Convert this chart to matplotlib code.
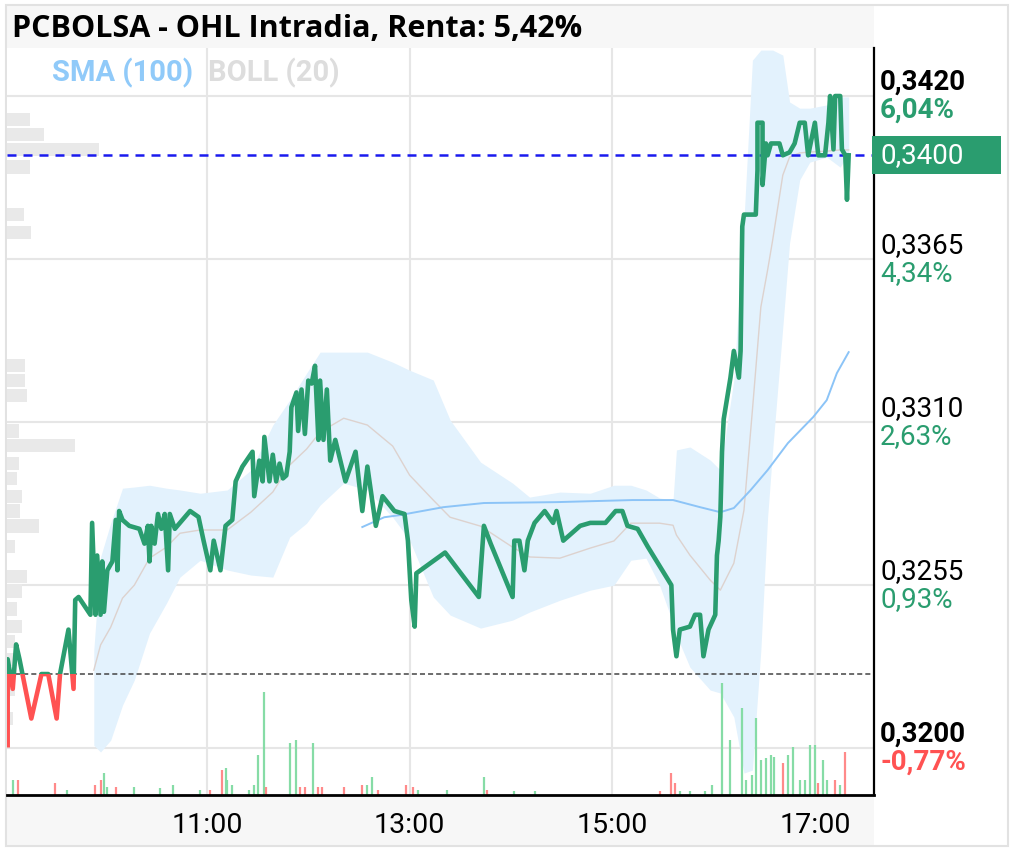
import math
import matplotlib
matplotlib.use("Agg")
import matplotlib.pyplot as plt
from matplotlib.patches import Rectangle
from matplotlib.transforms import blended_transform_factory, offset_copy

# reference (previous close) and last traded price
ref_price = 0.3225
last_price = 0.3400

# intraday price path
price_times = [
    "9:02", "9:02", "9:05", "9:07", "9:09", "9:16", "9:22", "9:26", "9:31", "9:33",
    "9:38", "9:41", "9:42", "9:44", "9:51", "9:52", "9:54", "9:55", "9:57", "9:58",
    "9:59", "10:01", "10:04", "10:06", "10:07", "10:08", "10:10", "10:14", "10:20", "10:23",
    "10:25", "10:26", "10:27", "10:29", "10:31", "10:33", "10:35", "10:37", "10:38", "10:41",
    "10:50", "10:55", "10:58", "11:02", "11:04", "11:08", "11:11", "11:15", "11:17", "11:21",
    "11:27", "11:28", "11:31", "11:33", "11:34", "11:37", "11:39", "11:41", "11:43", "11:45",
    "11:47", "11:49", "11:50", "11:53", "11:54", "11:56", "11:58", "12:00", "12:02", "12:04",
    "12:06", "12:07", "12:09", "12:11", "12:13", "12:16", "12:19", "12:22", "12:28", "12:32",
    "12:35", "12:40", "12:44", "12:51", "12:57", "12:59", "13:01", "13:03", "13:04", "13:21",
    "13:41", "13:44", "13:48", "14:01", "14:02", "14:05", "14:08", "14:10", "14:14", "14:20",
    "14:25", "14:27", "14:31", "14:41", "14:47", "14:56", "15:02", "15:06", "15:09", "15:15",
    "15:21", "15:35", "15:36", "15:38", "15:40", "15:46", "15:49", "15:52", "15:54", "15:57",
    "16:01", "16:02", "16:03", "16:04", "16:05", "16:06", "16:10", "16:12", "16:15", "16:16",
    "16:17", "16:18", "16:25", "16:26", "16:26", "16:29", "16:29", "16:31", "16:32", "16:34",
    "16:39", "16:41", "16:45", "16:48", "16:51", "16:54", "16:56", "17:00", "17:02", "17:06",
    "17:08", "17:09", "17:11", "17:12", "17:15", "17:16", "17:18", "17:19", "17:20",
]
price_values = [
    0.3201, 0.3230, 0.3220, 0.3235, 0.3230, 0.3210, 0.3225, 0.3225, 0.3210, 0.3225,
    0.3240, 0.3220, 0.3250, 0.3251, 0.3245, 0.3276, 0.3245, 0.3265, 0.3245, 0.3263,
    0.3246, 0.3260, 0.3263, 0.3277, 0.3260, 0.3280, 0.3277, 0.3275, 0.3274, 0.3269,
    0.3275, 0.3263, 0.3275, 0.3269, 0.3279, 0.3274, 0.3279, 0.3260, 0.3279, 0.3274,
    0.3280, 0.3278, 0.3270, 0.3260, 0.3270, 0.3260, 0.3275, 0.3277, 0.3290, 0.3295,
    0.3300, 0.3285, 0.3297, 0.3290, 0.3305, 0.3290, 0.3299, 0.3290, 0.3296, 0.3291,
    0.3292, 0.3300, 0.3315, 0.3320, 0.3307, 0.3321, 0.3306, 0.3324, 0.3323, 0.3329,
    0.3304, 0.3324, 0.3304, 0.3321, 0.3297, 0.3304, 0.3297, 0.3290, 0.3300, 0.3280,
    0.3295, 0.3275, 0.3285, 0.3280, 0.3279, 0.3270, 0.3250, 0.3241, 0.3259, 0.3266,
    0.3251, 0.3275, 0.3269, 0.3251, 0.3270, 0.3270, 0.3260, 0.3270, 0.3276, 0.3280,
    0.3276, 0.3280, 0.3270, 0.3275, 0.3276, 0.3276, 0.3280, 0.3280, 0.3275, 0.3274,
    0.3268, 0.3255, 0.3240, 0.3231, 0.3240, 0.3241, 0.3245, 0.3245, 0.3231, 0.3240,
    0.3245, 0.3265, 0.3270, 0.3278, 0.3300, 0.3311, 0.3325, 0.3334, 0.3325, 0.3334,
    0.3376, 0.3380, 0.3380, 0.3395, 0.3411, 0.3411, 0.3390, 0.3404, 0.3400, 0.3404,
    0.3404, 0.3400, 0.3401, 0.3404, 0.3411, 0.3411, 0.3400, 0.3411, 0.3400, 0.3400,
    0.3411, 0.3420, 0.3402, 0.3420, 0.3420, 0.3402, 0.3400, 0.3385, 0.3400,
]

# Bollinger (20) band
boll_times = [
    "9:53", "9:57", "10:03", "10:10", "10:17", "10:26", "10:36", "10:44", "10:56", "11:12",
    "11:26", "11:39", "11:49", "11:59", "12:07", "12:21", "12:35", "12:50", "13:00", "13:14",
    "13:24", "13:42", "14:01", "14:11", "14:29", "14:47", "15:01", "15:11", "15:20", "15:28",
    "15:36", "15:38", "15:46", "15:58", "16:04", "16:12", "16:18", "16:23", "16:28", "16:32",
    "16:35", "16:41", "16:45", "16:51", "16:57", "17:07", "17:15", "17:20",
]
boll_upper = [
    0.32331, 0.32645, 0.32759, 0.32877, 0.32881, 0.32887, 0.32877, 0.32871, 0.32860, 0.32871,
    0.32938, 0.33090, 0.33174, 0.33265, 0.33336, 0.33336, 0.33336, 0.33302, 0.33275, 0.33242,
    0.33107, 0.32965, 0.32894, 0.32847, 0.32864, 0.32860, 0.32887, 0.32887, 0.32871, 0.32844,
    0.32837, 0.33006, 0.33016, 0.32972, 0.32938, 0.33242, 0.33782, 0.34321, 0.34355, 0.34355,
    0.34355, 0.34338, 0.34180, 0.34159, 0.34159, 0.34170, 0.34197, 0.34197,
]
boll_lower = [
    0.32010, 0.31987, 0.32027, 0.32145, 0.32230, 0.32388, 0.32489, 0.32577, 0.32634, 0.32601,
    0.32584, 0.32577, 0.32712, 0.32759, 0.32820, 0.32894, 0.32871, 0.32779, 0.32702, 0.32510,
    0.32449, 0.32405, 0.32432, 0.32459, 0.32499, 0.32533, 0.32550, 0.32634, 0.32641, 0.32550,
    0.32422, 0.32381, 0.32273, 0.32196, 0.32186, 0.32105, 0.31916, 0.31926, 0.32331, 0.32779,
    0.33006, 0.33421, 0.33704, 0.33917, 0.33977, 0.33994, 0.33960, 0.34008,
]
boll_mid = [
    0.32263, 0.32348, 0.32408, 0.32506, 0.32550, 0.32641, 0.32678, 0.32725, 0.32736, 0.32736,
    0.32796, 0.32864, 0.32955, 0.33009, 0.33066, 0.33113, 0.33090, 0.33019, 0.32921, 0.32837,
    0.32779, 0.32749, 0.32678, 0.32645, 0.32641, 0.32675, 0.32699, 0.32759, 0.32759, 0.32759,
    0.32752, 0.32719, 0.32651, 0.32567, 0.32533, 0.32624, 0.32803, 0.33140, 0.33488, 0.33613,
    0.33714, 0.33933, 0.33994, 0.34008, 0.34011, 0.34014, 0.34018, 0.34018,
]

# SMA (100)
sma_times = ["12:32", "12:45", "12:54", "13:20", "13:44", "14:27", "15:12", "15:36", "15:52",
             "16:04", "16:12", "16:22", "16:32", "16:44", "16:59", "17:07", "17:13", "17:20"]
sma_values = [0.32746, 0.32779, 0.32786, 0.32813, 0.32827, 0.32830, 0.32837, 0.32837, 0.32813,
              0.32796, 0.32810, 0.32871, 0.32938, 0.33029, 0.33117, 0.33174, 0.33265, 0.33336]

# traded volume per trade (shares), 1 = up tick, 0 = down tick
vol_times = [
    "9:05", "9:08", "9:30", "9:37", "9:54", "9:57", "9:59", "10:01", "10:06", "10:17",
    "10:32", "10:40", "10:56", "11:02", "11:09", "11:11", "11:12", "11:15", "11:25", "11:28",
    "11:30", "11:34", "11:35", "11:49", "11:53", "11:55", "11:58", "12:03", "12:06", "12:08",
    "12:21", "12:32", "12:35", "12:38", "12:41", "12:58", "13:02", "13:05", "13:22", "13:44",
    "13:46", "14:02", "14:14", "15:28", "15:35", "15:37", "15:40", "15:46", "15:55", "15:59",
    "16:05", "16:10", "16:17", "16:19", "16:23", "16:25", "16:28", "16:31", "16:34", "16:36",
    "16:41", "16:44", "16:47", "16:51", "16:54", "16:57", "17:00", "17:02", "17:05", "17:07",
    "17:12", "17:15", "17:18",
]
vol_values = [
    15000, 15000, 12000, 5000, 10000, 15000, 22000, 8000, 8000, 8000,
    7000, 10000, 5000, 5000, 25000, 27000, 15000, 10000, 5000, 10000,
    40000, 103000, 8000, 52000, 55000, 8000, 8000, 52000, 8000, 8000,
    8000, 10000, 10000, 18000, 5000, 10000, 8000, 5000, 5000, 18000,
    5000, 4000, 4000, 4000, 22000, 12000, 4000, 4000, 4000, 10000,
    112000, 55000, 87000, 15000, 20000, 77000, 35000, 37000, 40000, 38000,
    32000, 40000, 48000, 15000, 15000, 50000, 50000, 12000, 35000, 15000,
    15000, 10000, 43000,
]
vol_up = [
    1, 0, 0, 1, 0, 0, 1, 1, 0, 1,
    1, 1, 1, 0, 0, 1, 1, 1, 1, 1,
    1, 1, 0, 1, 1, 0, 0, 1, 0, 0,
    0, 0, 1, 1, 0, 0, 0, 1, 1, 1,
    0, 1, 1, 0, 0, 0, 1, 1, 1, 1,
    1, 1, 1, 1, 1, 1, 1, 1, 1, 1,
    0, 1, 1, 1, 1, 1, 1, 0, 1, 1,
    0, 1, 0,
]

# volume-at-price profile
profile_prices = [0.3412, 0.3407, 0.3402, 0.3396, 0.3380, 0.3374, 0.3329, 0.3324, 0.3319, 0.3307,
                  0.3302, 0.3296, 0.3291, 0.3285, 0.3280, 0.3275, 0.3268, 0.3258, 0.3253, 0.3247,
                  0.3241, 0.3236, 0.3230, 0.3220, 0.3210]
profile_vol = [23, 37, 92, 23, 17, 24, 18, 18, 20, 12,
               68, 12, 10, 15, 13, 32, 8, 20, 15, 10,
               15, 8, 10, 8, 6]

price_ticks = [0.3200, 0.3255, 0.3310, 0.3365, 0.3420]
time_ticks = ["11:00", "13:00", "15:00", "17:00"]


def hours(t):
    h, m = t.split(":")
    return int(h) + int(m) / 60


GREEN = "#2a9d6f"
RED = "#ff5252"
FONT = "Roboto"

fig = plt.figure(figsize=(10.17, 8.51), dpi=100)
W, H = 1017, 851
ax = fig.add_axes([7 / W, 56 / H, 867 / W, 747 / H])

xmin, xmax = hours("9:01") + 0.6 / 60, hours("17:35")
ymin, ymax = 0.31842, 0.34362
ax.set_xlim(xmin, xmax)
ax.set_ylim(ymin, ymax)
yr = ymax - ymin

# frame pieces of the widget
fig.patches.append(Rectangle((6 / W, 803 / H), 868 / W, 42 / H, transform=fig.transFigure,
                             facecolor="#f7f7f7", edgecolor="none", zorder=-2))
fig.patches.append(Rectangle((6 / W, 5 / H), 868 / W, 51 / H, transform=fig.transFigure,
                             facecolor="#f7f7f7", edgecolor="none", zorder=-2))
fig.patches.append(Rectangle((6 / W, 5 / H), 1002 / W, 841 / H, transform=fig.transFigure,
                             fill=False, edgecolor="#e2e2e2", lw=1.5, zorder=-1))

fig.text(12 / W, 1 - 37 / H, "PCBOLSA - OHL Intradia, Renta: 5,42%", fontsize=22,
         fontweight="bold", family="Open Sans", va="baseline", ha="left")
fig.text(52 / W, 1 - 81 / H, "SMA (100)", fontsize=21, fontweight="bold", family=FONT,
         color="#90caf9", va="baseline")
fig.text(208 / W, 1 - 81 / H, "BOLL (20)", fontsize=21, fontweight="bold", family=FONT,
         color="#dddddd", va="baseline")

# grid
ax.set_xticks([hours(t) for t in time_ticks])
ax.set_xticklabels(time_ticks, fontsize=20.5, family=FONT)
ax.set_yticks(price_ticks)
ax.set_yticklabels([])
ax.grid(color="#e6e6e6", lw=1.5, zorder=0)
ax.set_axisbelow(True)
ax.tick_params(length=0, pad=12)
for s in ["left", "top"]:
    ax.spines[s].set_visible(False)
ax.spines["bottom"].set_linewidth(2)
ax.spines["right"].set_linewidth(1.6)

# volume profile on the left edge
pw = 0.106 * (xmax - xmin) / max(profile_vol)
ax.barh(profile_prices, [v * pw for v in profile_vol], height=0.00045, left=xmin,
        color="#e9e9e9", zorder=1)

# Bollinger band
bt = [hours(t) for t in boll_times]
ax.fill_between(bt, boll_lower, boll_upper, color="#e3f2fd", lw=0, zorder=1.1)
ax.plot(bt, boll_mid, color="#ddd2ce", lw=1.0, zorder=1.5)

# SMA
ax.plot([hours(t) for t in sma_times], sma_values, color="#8cc4f7", lw=1.4, zorder=1.6)

# volume bars
vscale = 0.15 * yr / max(vol_values)
vt = [hours(t) for t in vol_times]
ax.vlines(vt, ymin, [ymin + v * vscale for v in vol_values],
          colors=["#86dca6" if u else "#ff8a8a" for u in vol_up], lw=1.6, zorder=1.7)

# reference and last price lines
ax.axhline(ref_price, color="#444444", lw=1.1, dashes=(3.3, 2.0), zorder=2)
ax.axhline(last_price, color="#1a1aee", lw=1.8, dashes=(3.6, 2.8), zorder=2)

# price line, green above reference, red below
pt = [hours(t) for t in price_times]
for color, y0, y1 in [(GREEN, ref_price, ymax), (RED, ymin, ref_price)]:
    line, = ax.plot(pt, price_values, color=color, lw=3.3, solid_joinstyle="round", zorder=3)
    clip = Rectangle((xmin, y0), xmax - xmin, y1 - y0, transform=ax.transData)
    line.set_clip_path(clip)

# right-hand price / percent labels
trans = blended_transform_factory(ax.transAxes, ax.transData)
for p in price_ticks:
    bold = p in (min(price_ticks), max(price_ticks))
    pct = math.trunc(round((p / ref_price - 1) * 10000, 6)) / 100
    ax.text(1 + 6 / 867, p, f"{p:.4f}".replace(".", ","), fontsize=20, family=FONT,
            fontweight="bold" if bold else "normal", color="black", va="baseline",
            transform=offset_copy(trans, fig=fig, x=0, y=6, units="dots"), clip_on=False)
    ax.text(1 + 6 / 867, p, f"{pct:.2f}%".replace(".", ","), fontsize=20, family=FONT,
            fontweight="bold" if bold else "normal", color=GREEN if pct > 0 else RED,
            va="baseline", transform=offset_copy(trans, fig=fig, x=0, y=-22, units="dots"),
            clip_on=False)

box_h = 38 / 747 * yr
ax.add_patch(Rectangle((1 - 2 / 867, last_price - box_h / 2), 129 / 867, box_h,
                       transform=trans, facecolor=GREEN, edgecolor="none", clip_on=False,
                       zorder=4))
ax.text(1 + 6 / 867, last_price, f"{last_price:.4f}".replace(".", ","), fontsize=20,
        family=FONT, color="white", va="center", transform=trans, clip_on=False, zorder=5)

fig.savefig("out.png", dpi=100)
